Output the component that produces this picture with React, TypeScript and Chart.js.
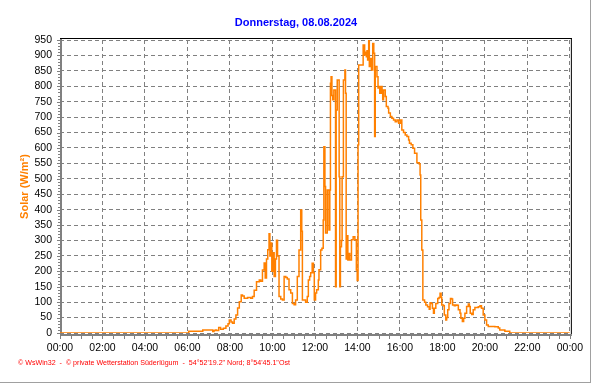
import React, { useEffect, useRef } from "react";
import { Chart, registerables } from "chart.js";

Chart.register(...registerables);

const FONT = '"Liberation Sans", Arial, sans-serif';
const TITLE = "Donnerstag, 08.08.2024";
const Y_TITLE = "Solar (W/m²)";
const FOOTER =
  "© WsWin32  -  © private Wetterstation Süderlügum  -  54°52'19.2\" Nord; 8°54'45.1\"Ost";

// time of day in decimal hours
const hours = [
  0, 6.06, 6.72, 7.19, 7.25, 7.31, 7.37, 7.47, 7.56, 7.69, 7.81, 7.91, 7.97, 8.05, 8.12, 8.2, 8.28,
  8.36, 8.44, 8.53, 8.59, 8.67, 8.83, 8.98, 9.06, 9.14, 9.25, 9.38, 9.45, 9.53, 9.61, 9.66, 9.72,
  9.78, 9.84, 9.88, 9.92, 9.97, 10.03, 10.08, 10.14, 10.19, 10.24, 10.31, 10.39, 10.47, 10.55,
  10.63, 10.7, 10.78, 10.86, 10.94, 11.02, 11.09, 11.17, 11.25, 11.33, 11.38, 11.41, 11.56, 11.64,
  11.69, 11.75, 11.8, 11.87, 11.93, 11.97, 12.03, 12.08, 12.16, 12.19, 12.27, 12.33, 12.39, 12.42,
  12.47, 12.5, 12.58, 12.66, 12.7, 12.73, 12.76, 12.8, 12.84, 12.89, 12.97, 13.0, 13.05, 13.14,
  13.17, 13.2, 13.25, 13.28, 13.34, 13.41, 13.44, 13.47, 13.52, 13.55, 13.6, 13.64, 13.72, 13.8,
  13.88, 13.95, 13.99, 14.03, 14.06, 14.27, 14.34, 14.39, 14.42, 14.45, 14.48, 14.53, 14.56, 14.61,
  14.66, 14.72, 14.77, 14.81, 14.84, 14.92, 14.97, 15.0, 15.05, 15.09, 15.16, 15.19, 15.23, 15.31,
  15.36, 15.44, 15.47, 15.55, 15.62, 15.7, 15.78, 15.86, 15.94, 16.02, 16.09, 16.17, 16.25, 16.33,
  16.41, 16.45, 16.53, 16.61, 16.69, 16.8, 16.91, 16.95, 16.98, 17.03, 17.08, 17.16, 17.22, 17.3,
  17.38, 17.42, 17.47, 17.53, 17.58, 17.62, 17.69, 17.78, 17.84, 17.89, 17.94, 17.97, 18.05, 18.09,
  18.16, 18.2, 18.25, 18.31, 18.38, 18.44, 18.48, 18.56, 18.62, 18.69, 18.75, 18.83, 18.87, 18.94,
  19.0, 19.06, 19.14, 19.22, 19.27, 19.31, 19.38, 19.45, 19.53, 19.69, 19.77, 19.84, 19.92, 20.0,
  20.08, 20.16, 20.47, 20.63, 20.7, 20.94, 21.17, 24,
];

// solar radiation, W/m²
const solar = [
  0, 6, 10, 5, 8, 10, 8, 18, 12, 15, 23, 30, 42, 36, 32, 45, 58,
  81, 101, 123, 120, 113, 115, 113, 118, 139, 166, 172, 168, 204, 227, 178, 240,
  270, 322, 250, 292, 200, 260, 183, 240, 301, 250, 118, 110, 107, 183,
  180, 175, 140, 130, 96, 92, 107, 183, 269, 399, 330, 107, 100, 118,
  172, 183, 195, 226, 195, 107, 130, 140, 172, 205, 269, 275, 366, 604,
  475, 324, 464, 334, 464, 810, 831, 770, 756, 788, 150, 723, 820, 507,
  150, 280, 300, 507, 820, 853, 777, 240, 315, 237, 258, 237, 302, 312,
  302, 204, 170, 610, 869, 934, 901, 910, 896, 915, 885, 950, 864, 890,
  853, 939, 907, 637, 864, 831, 794, 799, 777, 799, 777, 756, 788, 767,
  734, 729, 713, 702, 696, 691, 685, 691, 680, 691, 658, 650, 642, 637,
  626, 615, 610, 599, 583, 552, 548, 512, 366, 269, 107, 100, 91, 85,
  77, 98, 96, 80, 64, 80, 96, 112, 115, 129, 115, 91, 88, 58,
  42, 50, 75, 96, 112, 110, 91, 88, 91, 90, 75, 64, 48, 37,
  48, 64, 86, 94, 86, 64, 60, 75, 83, 85, 88, 80, 58, 42,
  26, 21, 20, 16, 10, 6, 0, 0,
];

const xTickLabels = [
  "00:00", "02:00", "04:00", "06:00", "08:00", "10:00", "12:00",
  "14:00", "16:00", "18:00", "20:00", "22:00", "00:00",
];
const X_MAX = 24;
const X_STEP = 2;
const Y_MAX = 950;
const Y_STEP = 50;

const decorPlugin = {
  id: "decor",
  beforeDatasetsDraw(chart: any) {
    const { ctx, chartArea: a, scales } = chart;
    const xs = scales.x;
    const ys = scales.y;
    ctx.save();
    ctx.fillStyle = "#808080";
    // y ruler ticks
    for (let v = 0; v <= Y_MAX; v += 10) {
      const py = Math.round(ys.getPixelForValue(v));
      const len = v % Y_STEP === 0 ? 3 : 2;
      ctx.fillRect(a.left - len, py, len, 1);
    }
    // x ticks every 30 min
    for (let h = 0; h <= X_MAX; h += 0.5) {
      const px = Math.round(xs.getPixelForValue(h));
      ctx.fillRect(px, a.bottom + 3, 1, 3);
    }
    // axis lines
    ctx.fillRect(a.left, a.top - 2, 2, a.bottom - a.top + 5);
    ctx.fillRect(a.left, a.bottom + 1, a.right - a.left + 2, 2);
    // black top / right border
    ctx.fillStyle = "#000000";
    ctx.fillRect(a.left, a.top - 2, a.right - a.left + 2, 1);
    ctx.fillRect(a.right + 1, a.top - 2, 1, a.bottom - a.top + 3);
    ctx.restore();
  },
  afterDraw(chart: any) {
    const { ctx } = chart;
    ctx.save();
    ctx.font = `10px ${FONT}`;
    const w = ctx.measureText(FOOTER).width;
    const size = (10 * 272) / w;
    ctx.font = `${size.toFixed(2)}px ${FONT}`;
    ctx.fillStyle = "#FF0000";
    ctx.textBaseline = "middle";
    ctx.textAlign = "left";
    ctx.fillText(FOOTER, 18, 363);
    // outer frame (right / bottom)
    ctx.fillStyle = "#A0A0A0";
    ctx.fillRect(590, 0, 1, 383);
    ctx.fillRect(0, 382, 591, 1);
    ctx.restore();
  },
};

export default function App() {
  const ref = useRef<HTMLCanvasElement | null>(null);

  useEffect(() => {
    if (!ref.current) return;
    const points = hours.map((h, i) => ({ x: h, y: solar[i] }));
    const chart = new Chart(ref.current, {
      type: "line",
      data: {
        datasets: [
          {
            data: points,
            borderColor: "#FF8000",
            borderWidth: 1.5,
            pointRadius: 0,
            stepped: true,
            tension: 0,
            fill: false,
          },
        ],
      },
      options: {
        animation: false,
        responsive: false,
        devicePixelRatio: 1,
        layout: { padding: { top: 0, left: 20, right: 20, bottom: 17 } },
        plugins: {
          legend: { display: false },
          tooltip: { enabled: false },
          title: {
            display: true,
            text: TITLE,
            color: "#0000FF",
            font: { family: FONT, size: 11, weight: "bold", lineHeight: "14px" },
            padding: { top: 16, bottom: 10 },
          },
        },
        scales: {
          x: {
            type: "linear",
            min: 0,
            max: X_MAX,
            afterFit: (s: any) => {
              s.height = 34;
            },
            ticks: {
              stepSize: X_STEP,
              autoSkip: false,
              maxRotation: 0,
              padding: 9,
              color: "#000000",
              font: { family: FONT, size: 10.5 },
              callback: (_v: any, i: number) => xTickLabels[i],
            },
            grid: { color: "#808080", lineWidth: 1, drawTicks: false },
            border: { display: false, dash: [4, 3] },
          },
          y: {
            type: "linear",
            min: 0,
            max: Y_MAX,
            afterFit: (s: any) => {
              s.width = 40;
            },
            ticks: {
              stepSize: Y_STEP,
              autoSkip: false,
              maxTicksLimit: 100,
              padding: 8,
              color: "#000000",
              font: { family: FONT, size: 10.5 },
            },
            grid: { color: "#808080", lineWidth: 1, drawTicks: false },
            border: { display: false, dash: [4, 3] },
            title: {
              display: true,
              text: Y_TITLE,
              color: "#FF8000",
              font: { family: FONT, size: 11, weight: "bold", lineHeight: "8px" },
              padding: { top: 1, bottom: 0 },
            },
          },
        },
      },
      plugins: [decorPlugin],
    } as any);
    return () => chart.destroy();
  }, []);

  return (
    <div style={{ position: "fixed", left: 0, top: 0, width: 592, height: 384, background: "#fff" }}>
      <canvas ref={ref} width={592} height={384} style={{ display: "block" }} />
    </div>
  );
}
